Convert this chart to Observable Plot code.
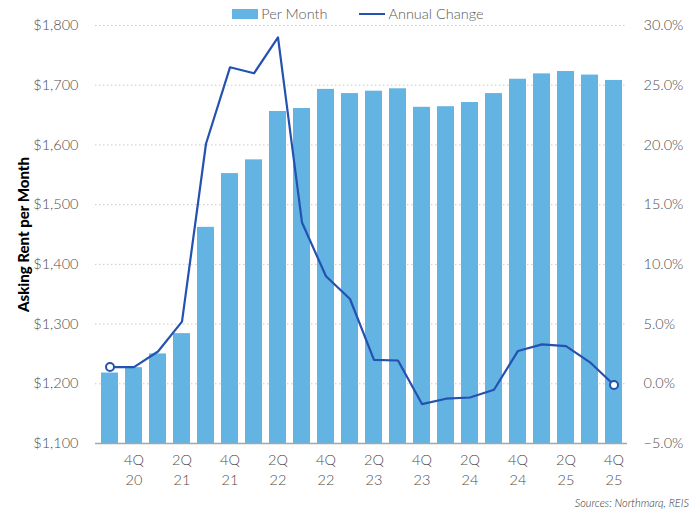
<!DOCTYPE html>
<html>
<head>
<meta charset="utf-8">
<script src="https://cdn.jsdelivr.net/npm/d3@7"></script>
<script src="https://cdn.jsdelivr.net/npm/@observablehq/plot@0.6"></script>
<style>
  html, body { margin: 0; padding: 0; background: #fff; }
  #wrap { position: relative; width: 698px; height: 511px; font-family: Lato, "Open Sans", sans-serif; color: #595959; }
  #legend { position: absolute; top: 5px; left: 0; width: 698px; display: flex; justify-content: center; gap: 32px; font-size: 14.5px; font-weight: 300; padding-left: 18px; box-sizing: border-box; }
  #legend span.item { display: flex; align-items: center; gap: 3px; }
  .sw-bar { display: inline-block; width: 26px; height: 10px; background: #63b3e3; }
  .sw-line { display: inline-block; width: 26px; height: 2px; background: #2352b1; }
  #caption { position: absolute; right: 9px; bottom: 2px; font-size: 11px; font-style: italic; font-weight: 300; color: #333; }
</style>
</head>
<body>
<div id="wrap">
  <div id="chart"></div>
  <div id="legend">
    <span class="item"><span class="sw-bar"></span>Per Month</span>
    <span class="item"><span class="sw-line"></span>Annual Change</span>
  </div>
  <div id="caption">Sources: Northmarq, REIS</div>
</div>
<script>
// Quarterly asking rent (USD per month) and its year-over-year change (%)
const quarters = ["3Q20","4Q20","1Q21","2Q21","3Q21","4Q21","1Q22","2Q22","3Q22","4Q22","1Q23",
                  "2Q23","3Q23","4Q23","1Q24","2Q24","3Q24","4Q24","1Q25","2Q25","3Q25","4Q25"];
const rentPerMonth = [1218,1227,1250,1284,1462,1552,1575,1656,1661,1693,1686,
                      1690,1694,1663,1664,1671,1686,1710,1719,1723,1717,1708];
const annualChange = [1.4,1.4,2.7,5.2,20.1,26.5,26.0,29.0,13.5,9.0,7.1,
                      2.0,1.95,-1.7,-1.25,-1.15,-0.5,2.75,3.3,3.15,1.8,-0.1];
const xTickLabels = ["4Q20","2Q21","4Q21","2Q22","4Q22","2Q23","4Q23","2Q24","4Q24","2Q25","4Q25"];
const dollarTicks = [1100,1200,1300,1400,1500,1600,1700,1800];
const pctTicks = [-5,0,5,10,15,20,25,30];

// Left axis spans $1,100–$1,800, right axis spans -5%–30%: map percent onto the dollar scale
const pctMin = -5, pctMax = 30, usdMin = 1100, usdMax = 1800;
const k = (usdMax - usdMin) / (pctMax - pctMin);
const pctToUsd = p => usdMin + (p - pctMin) * k;
const usdToPct = v => (v - usdMin) / k + pctMin;

const rows = quarters.map((q, i) => ({q, rent: rentPerMonth[i], chg: annualChange[i], chgY: pctToUsd(annualChange[i])}));
const ends = [rows[0], rows[rows.length - 1]];

const tickFont = {fontSize: 14.5, fontWeight: 300, fill: "#4d4d4d"};

const chart = Plot.plot({
  width: 698,
  height: 511,
  marginTop: 25,
  marginBottom: 68,
  marginLeft: 95,
  marginRight: 71,
  style: {fontFamily: "Lato, 'Open Sans', sans-serif", fontSize: "14px", color: "#595959", background: "#fff"},
  x: {domain: quarters, paddingInner: 0.3, paddingOuter: 0.15},
  y: {domain: [usdMin, usdMax]},
  marks: [
    Plot.gridY(dollarTicks, {stroke: "#c8c8c8", strokeOpacity: 1, strokeDasharray: "1.5,2.5"}),
    Plot.barY(rows, {x: "q", y1: usdMin, y2: "rent", fill: "#63b3e3"}),
    Plot.ruleY([usdMin], {stroke: "#a6a6a6", strokeWidth: 1.3}),
    Plot.line(rows, {x: "q", y: "chgY", stroke: "#2352b1", strokeWidth: 2.2}),
    Plot.dot(ends, {x: "q", y: "chgY", r: 4, fill: "#fff", stroke: "#2352b1", strokeWidth: 2}),
    Plot.axisX({ticks: xTickLabels, tickSize: 0, tickPadding: 7, label: null,
      tickFormat: d => d.slice(0, 2) + "\n" + d.slice(2), lineHeight: 1.4, ...tickFont}),
    Plot.axisY({ticks: dollarTicks, anchor: "left", tickSize: 0, tickPadding: 17, label: null,
      tickFormat: d => "$" + d3.format(",")(d), ...tickFont}),
    Plot.axisY({ticks: pctTicks.map(pctToUsd), anchor: "right", tickSize: 0, tickPadding: 16, label: null,
      tickFormat: d => d3.format(".1f")(usdToPct(d)) + "%", ...tickFont}),
    Plot.axisY({ticks: [], anchor: "left", label: "Asking Rent per Month", labelAnchor: "center",
      labelOffset: 77, labelArrow: false, fontWeight: 900, fontSize: 15, fill: "#000"})
  ]
});
document.getElementById("chart").appendChild(chart);
</script>
</body>
</html>
